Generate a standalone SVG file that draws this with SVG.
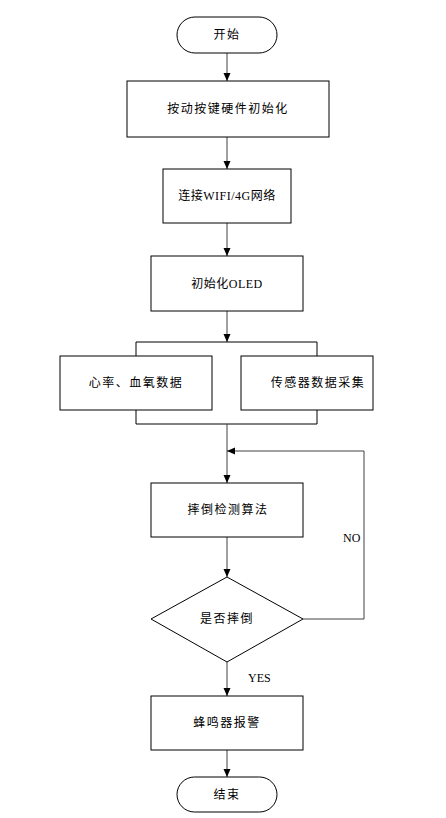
<svg xmlns="http://www.w3.org/2000/svg" width="446" height="818" viewBox="0 0 446 818">
<style>
.b{fill:#fff;stroke:#000;stroke-width:1}
.t{font-family:"Liberation Serif","Noto Sans CJK SC",serif;font-size:12px;fill:#000;text-anchor:middle;letter-spacing:1.5px}
.l{font-family:"Liberation Serif",serif;font-size:12px;fill:#000}
.c{fill:none;stroke:#404040;stroke-width:1}
</style>
<defs>
<marker id="a" viewBox="0 0 8 8" refX="8" refY="4" markerWidth="8" markerHeight="8" markerUnits="userSpaceOnUse" orient="auto">
<path d="M0,0.5 L8,4 L0,7.5 Z" fill="#000"/>
</marker>
</defs>
<rect width="446" height="818" fill="#fff"/>
<g id="connectors">
<line class="c" x1="227" y1="53" x2="227" y2="81" marker-end="url(#a)"/>
<line class="c" x1="227" y1="137" x2="227" y2="169" marker-end="url(#a)"/>
<line class="c" x1="227" y1="223" x2="227" y2="256" marker-end="url(#a)"/>
<line class="c" x1="227" y1="311" x2="227" y2="342" marker-end="url(#a)"/>
<polyline class="c" points="136,356 136,342 317,342 317,356" style="stroke:#000"/>
<polyline class="c" points="136,410 136,424 317,424 317,410" style="stroke:#000"/>
<line class="c" x1="227" y1="424" x2="227" y2="483" marker-end="url(#a)"/>
<polyline class="c" points="303,619 364,619 364,451 227,451" marker-end="url(#a)"/>
<line class="c" x1="227" y1="537" x2="227" y2="577" marker-end="url(#a)"/>
<line class="c" x1="227" y1="662" x2="227" y2="696" marker-end="url(#a)"/>
<line class="c" x1="227" y1="750" x2="227" y2="777" marker-end="url(#a)"/>
<text class="l" x="343" y="542">NO</text>
<text class="l" x="248" y="682">YES</text>
</g>
<g id="start">
<rect class="b" x="177" y="17" width="100" height="36" rx="18"/>
<text class="t" x="227" y="39">开始</text>
</g>
<g id="n1">
<rect class="b" x="127" y="81" width="202" height="56"/>
<text class="t" x="228" y="113">按动按键硬件初始化</text>
</g>
<g id="n2">
<rect class="b" x="163" y="169" width="128" height="54"/>
<text class="t" x="227" y="200" style="letter-spacing:0.5px">连接WIFI/4G网络</text>
</g>
<g id="n3">
<rect class="b" x="151" y="256" width="152" height="55"/>
<text class="t" x="227" y="288" style="letter-spacing:0.5px">初始化OLED</text>
</g>
<g id="n4">
<rect class="b" x="60" y="356" width="152" height="54"/>
<text class="t" x="136" y="387">心率、血氧数据</text>
</g>
<g id="n5">
<rect class="b" x="241" y="356" width="132" height="54"/>
<text class="t" x="318" y="387">传感器数据采集</text>
</g>
<g id="n6">
<rect class="b" x="151" y="483" width="152" height="54"/>
<text class="t" x="228" y="514">摔倒检测算法</text>
</g>
<g id="n7">
<polygon class="b" points="227,577 303,619 227,662 151,619"/>
<text class="t" x="227" y="623">是否摔倒</text>
</g>
<g id="n8">
<rect class="b" x="151" y="696" width="152" height="54"/>
<text class="t" x="227" y="727">蜂鸣器报警</text>
</g>
<g id="end">
<rect class="b" x="177" y="777" width="100" height="35" rx="17.5"/>
<text class="t" x="227" y="799">结束</text>
</g>
</svg>
